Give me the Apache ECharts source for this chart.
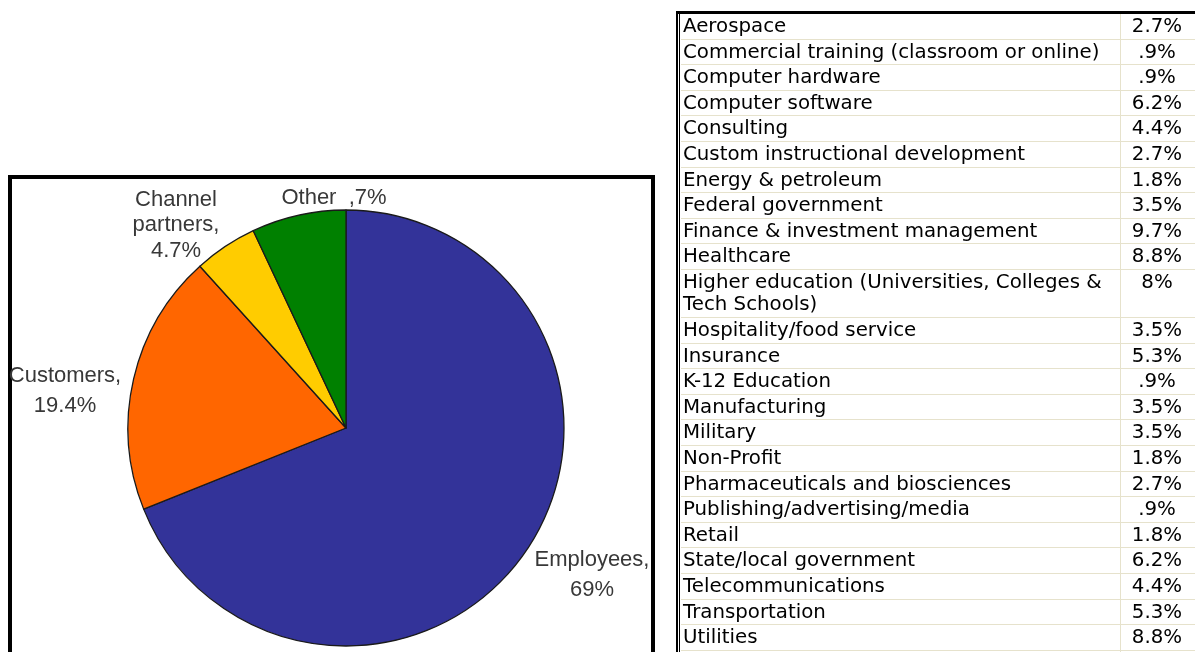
<!DOCTYPE html>
<html>
<head>
<meta charset="utf-8">
<script src="https://cdn.jsdelivr.net/npm/echarts@6/dist/echarts.min.js"></script>
<style>
  html, body { margin: 0; padding: 0; background: #fff; }
  #main { width: 1195px; height: 652px; }
</style>
</head>
<body>
<div id="main"></div>
<script>
// Who the training is delivered to (pie)
const audienceNames = ['Employees', 'Customers', 'Channel partners', 'Other'];
const audienceShares = [69, 19.4, 4.7, 7];
const audienceCaptions = ['Employees,\n', 'Customers,\n', 'Channel\npartners,\n', 'Other  ,'];
const audienceColors = ['#333399', '#FF6600', '#FFCC00', '#008000'];

// Respondents by industry (table)
const industries = [
  'Aerospace',
  'Commercial training (classroom or online)',
  'Computer hardware',
  'Computer software',
  'Consulting',
  'Custom instructional development',
  'Energy & petroleum',
  'Federal government',
  'Finance & investment management',
  'Healthcare',
  'Higher education (Universities, Colleges & Tech Schools)',
  'Hospitality/food service',
  'Insurance',
  'K-12 Education',
  'Manufacturing',
  'Military',
  'Non-Profit',
  'Pharmaceuticals and biosciences',
  'Publishing/advertising/media',
  'Retail',
  'State/local government',
  'Telecommunications',
  'Transportation',
  'Utilities'
];
const industryShares = [2.7, 0.9, 0.9, 6.2, 4.4, 2.7, 1.8, 3.5, 9.7, 8.8, 8, 3.5, 5.3, 0.9, 3.5, 3.5, 1.8, 2.7, 0.9, 1.8, 6.2, 4.4, 5.3, 8.8];

function pct(v) {
  return String(v).replace(/^0(?=\.)/, '') + '%';
}

// ---- table geometry ----
const TABLE_LEFT = 676, TABLE_TOP = 11, TABLE_RIGHT = 1195, PAGE_BOTTOM = 652;
const BODY_TOP = 14, TEXT_X = 683, DIVIDER_X = 1120, VALUE_X = 1157;
const ROW_H = 25.6, EXTRA_LINE_H = 22.4;
const TABLE_FONT = '19.8px "DejaVu Sans"';
const GRID = '#E6E2CC';

const measureCtx = document.createElement('canvas').getContext('2d');
measureCtx.font = TABLE_FONT;
function wrapText(text, maxW) {
  const words = text.split(' ');
  const lines = [];
  let cur = '';
  for (const w of words) {
    const trial = cur ? cur + ' ' + w : w;
    if (cur && measureCtx.measureText(trial).width > maxW) {
      lines.push(cur);
      cur = w;
    } else {
      cur = trial;
    }
  }
  if (cur) lines.push(cur);
  return lines;
}

const tableEls = [];
let rowTop = BODY_TOP;
industries.forEach((name, i) => {
  const lines = wrapText(name, DIVIDER_X - TEXT_X - 2);
  const h = ROW_H + (lines.length - 1) * EXTRA_LINE_H;
  tableEls.push({
    type: 'text', silent: true,
    style: {
      text: lines.join('\n'), x: TEXT_X, y: rowTop + h / 2,
      font: TABLE_FONT, fill: '#000', lineHeight: 22,
      textAlign: 'left', textVerticalAlign: 'middle'
    }
  });
  tableEls.push({
    type: 'text', silent: true,
    style: {
      text: pct(industryShares[i]), x: VALUE_X, y: rowTop + ROW_H / 2,
      font: TABLE_FONT, fill: '#000',
      textAlign: 'center', textVerticalAlign: 'middle'
    }
  });
  rowTop += h;
  tableEls.push({
    type: 'rect', silent: true,
    shape: { x: TABLE_LEFT + 5, y: Math.round(rowTop) - 1, width: TABLE_RIGHT - TABLE_LEFT, height: 1 },
    style: { fill: GRID }
  });
});
// column divider
tableEls.unshift({
  type: 'rect', silent: true,
  shape: { x: DIVIDER_X, y: BODY_TOP, width: 1, height: PAGE_BOTTOM - BODY_TOP },
  style: { fill: GRID }
});
// outer border (double on the left)
tableEls.push(
  { type: 'rect', silent: true, shape: { x: TABLE_LEFT, y: TABLE_TOP, width: TABLE_RIGHT - TABLE_LEFT + 5, height: 3 }, style: { fill: '#000' } },
  { type: 'rect', silent: true, shape: { x: TABLE_LEFT, y: TABLE_TOP, width: 2, height: PAGE_BOTTOM - TABLE_TOP + 5 }, style: { fill: '#000' } },
  { type: 'rect', silent: true, shape: { x: TABLE_LEFT + 3, y: TABLE_TOP, width: 1, height: PAGE_BOTTOM - TABLE_TOP + 5 }, style: { fill: '#000' } }
);

// frame around the pie
const pieFrame = {
  type: 'rect', silent: true,
  shape: { x: 10, y: 177, width: 643, height: 520 },
  style: { fill: 'none', stroke: '#000', lineWidth: 4 }
};

// label anchors beside each slice
const labelSpots = [
  { x: 592, y: 575 },
  { x: 65, y: 391 },
  { x: 176, y: 225 },
  { x: 334, y: 198 }
];

const chart = echarts.init(document.getElementById('main'), null, { renderer: 'canvas' });
chart.setOption({
  animation: false,
  backgroundColor: '#fff',
  graphic: [pieFrame].concat(tableEls),
  series: [{
    type: 'pie',
    center: [346, 428],
    radius: 218,
    startAngle: 90,
    clockwise: true,
    silent: true,
    avoidLabelOverlap: false,
    data: audienceNames.map((n, i) => ({
      name: n,
      value: audienceShares[i],
      itemStyle: { color: audienceColors[i] },
      label: i === 2 ? { lineHeight: 25.5 } : undefined
    })),
    itemStyle: { borderColor: '#1a1a1a', borderWidth: 1.3 },
    label: {
      show: true,
      position: 'outside',
      color: '#383838',
      fontFamily: '"Liberation Sans", Arial, sans-serif',
      fontSize: 22,
      lineHeight: 30,
      align: 'center',
      formatter: p => audienceCaptions[p.dataIndex] + pct(p.value)
    },
    labelLine: { show: false },
    labelLayout: p => {
      const s = labelSpots[p.dataIndex];
      return { x: s.x, y: s.y, align: 'center', verticalAlign: 'middle' };
    },
    emphasis: { disabled: true }
  }]
});
</script>
</body>
</html>
